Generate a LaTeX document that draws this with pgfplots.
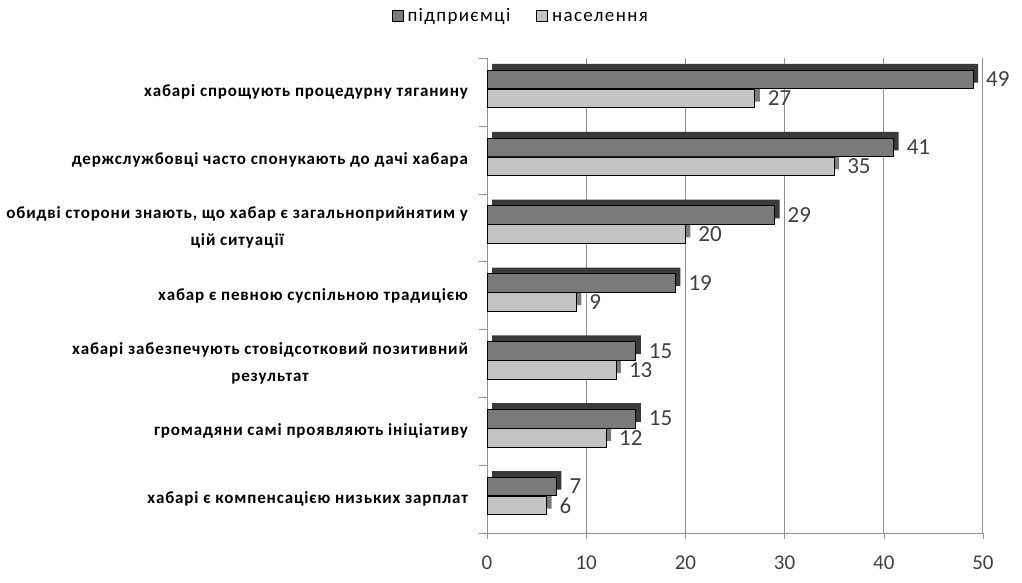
\documentclass[border=0pt]{standalone}
\usepackage{pgfplots}
\pgfplotsset{compat=1.18}
\usepackage{fontspec}
\setmainfont{Carlito}
\newfontfamily\catfont[LetterSpace=5]{Carlito}
\newfontfamily\legfont[LetterSpace=7]{Carlito}
\definecolor{darkbar}{HTML}{7A7A7A}
\definecolor{lightbar}{HTML}{C4C4C4}
\definecolor{darkdepth}{HTML}{3A3A3A}
\definecolor{lightdepth}{HTML}{7C7C7C}
\definecolor{labelgray}{HTML}{404040}
\definecolor{gridgray}{HTML}{909090}
\pgfplotstableread{
y a b
0 49 27
1 41 35
2 29 20
3 19 9
4 15 13
5 15 12
6 7 6
}\data
\begin{document}
\begin{tikzpicture}
\path[use as bounding box] (0,0) rectangle (511pt,291.5pt);
\begin{axis}[
  at={(243.5pt,25pt)}, anchor=south west,
  scale only axis, width=248pt, height=237.5pt,
  /pgf/number format/assume math mode=true,
  xbar, bar width=0.275,
  xmin=0, xmax=50, ymin=-0.5, ymax=6.5,
  y dir=reverse,
  axis lines=left,
  axis line style={draw=gridgray, -},
  xtick={0,10,...,50},
  xmajorgrids, grid style={draw=gridgray, line width=0.5pt},
  tick align=outside,
  major tick length=3pt,
  tick style={draw=gridgray},
  ytick={0,...,6},
  major y tick style={draw=none},
  minor ytick={-0.5,0.5,...,6.5},
  minor tick length=4pt,
  minor y tick style={draw=gridgray},
  yticklabels={
    {хабарі спрощують процедурну тяганину},
    {держслужбовці часто спонукають до дачі хабара},
    {обидві сторони знають, що хабар є загальноприйнятим у\\цій ситуації},
    {хабар є певною суспільною традицією},
    {хабарі забезпечують стовідсотковий позитивний\\результат},
    {громадяни самі проявляють ініціативу},
    {хабарі є компенсацією низьких зарплат}},
  yticklabel style={align=center, font=\catfont\bfseries\fontsize{8.5}{13.5}\selectfont, text=black, xshift=-3pt},
  xticklabel style={font=\fontsize{10.5}{12}\selectfont, text=labelgray, yshift=-5pt},
  legend style={at={(0.07,1.088)}, anchor=center, draw=none, fill=none,
    legend columns=2, font=\legfont\fontsize{9.5}{11}\selectfont,
    nodes={text height=1.6ex, text depth=0.4ex},
    /tikz/every even column/.append style={column sep=11pt}},
  legend image code/.code={\draw[#1, draw=black] (0pt,-2.75pt) rectangle (5.5pt,2.75pt);},
]
\addplot[draw=none, fill=darkdepth, bar shift=-0.275, xshift=2.5pt, forget plot] table[x=a,y=y]{\data};
\addplot[draw=none, fill=lightdepth, bar shift=0.005, xshift=2.5pt, forget plot] table[x=b,y=y]{\data};
\addplot[draw=black, fill=darkbar, bar shift=-0.185,
  nodes near coords={\pgfmathprintnumber[assume math mode=true]{\pgfplotspointmeta}},
  every node near coord/.append style={font=\fontsize{11.5}{13}\selectfont, text=labelgray, xshift=3pt}]
  table[x=a,y=y]{\data};
\addlegendentry{підприємці}
\addplot[draw=black, fill=lightbar, bar shift=0.095,
  nodes near coords={\pgfmathprintnumber[assume math mode=true]{\pgfplotspointmeta}},
  every node near coord/.append style={font=\fontsize{11.5}{13}\selectfont, text=labelgray, xshift=3pt}]
  table[x=b,y=y]{\data};
\addlegendentry{населення}
\end{axis}
\end{tikzpicture}
\end{document}
